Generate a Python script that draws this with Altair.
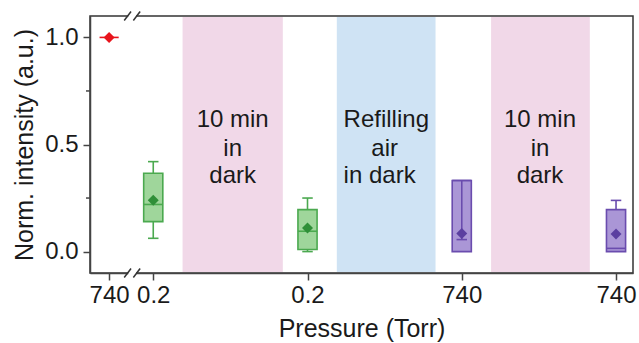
import altair as alt
import pandas as pd

FONT = "Liberation Sans"

# ---- data ----
tick_positions = [0.714, 1.0, 2.0, 3.0, 4.0]
tick_labels = ["740", "0.2", "0.2", "740", "740"]
box_groups = ["red", "green", "green", "purple", "purple"]
box_q1 = [1.0, 0.14, 0.01, 0.0, 0.0]
box_q3 = [1.0, 0.366, 0.196, 0.332, 0.196]
box_median = [1.0, 0.22, 0.095, 0.332, 0.015]
box_mean = [1.0, 0.24, 0.11, 0.084, 0.082]

whisker_pos = [1.0, 1.0, 2.0, 2.0, 3.0, 4.0]
whisker_group = ["green", "green", "green", "green", "purple", "purple"]
whisker_lo = [0.366, 0.062, 0.196, 0.0, 0.056, 0.196]
whisker_hi = [0.42, 0.14, 0.25, 0.01, 0.332, 0.239]
cap_value = [0.42, 0.062, 0.25, 0.0, 0.056, 0.239]

band_start = [1.19, 2.19, 3.19]
band_end = [1.84, 2.83, 3.83]
band_color = ["#f1d8e8", "#cfe3f4", "#f1d8e8"]

note_text = ["10 min", "in", "dark", "Refilling", "air", "in dark", "10 min", "in", "dark"]
note_x = [1.515, 1.515, 1.515, 2.234, 2.5, 2.234, 3.507, 3.507, 3.507]
note_y = [0.584, 0.444, 0.318, 0.584, 0.444, 0.318, 0.584, 0.444, 0.318]
note_align = ["center", "center", "center", "left", "center", "left", "center", "center", "center"]

stroke_col = {"red": "#e8141c", "green": "#4ba94f", "purple": "#6a4cae"}
fill_col = {"red": "#e8141c", "green": "#9fd69b", "purple": "#aa96d6"}
mean_col = {"red": "#e8141c", "green": "#2f8f38", "purple": "#5b3fa0"}

BOX_HW = 0.062
CAP_HW = 0.034
X_DOM = [0.59, 4.11]
Y_DOM = [-0.1, 1.1]

boxes = pd.DataFrame({
    "pos": tick_positions, "group": box_groups, "q1": box_q1, "q3": box_q3,
    "median": box_median, "mean": box_mean,
})
boxes["xl"] = boxes["pos"] - BOX_HW
boxes["xr"] = boxes["pos"] + BOX_HW
boxes["stroke"] = boxes["group"].map(stroke_col)
boxes["fill"] = boxes["group"].map(fill_col)
boxes["mcol"] = boxes["group"].map(mean_col)
real_boxes = boxes[boxes["group"] != "red"]

wh = pd.DataFrame({"pos": whisker_pos, "group": whisker_group, "lo": whisker_lo,
                   "hi": whisker_hi, "cap": cap_value})
wh["stroke"] = wh["group"].map(stroke_col)
wh["cl"] = wh["pos"] - CAP_HW
wh["cr"] = wh["pos"] + CAP_HW

bands = pd.DataFrame({"start": band_start, "end": band_end, "color": band_color})
notes = pd.DataFrame({"text": note_text, "x": note_x, "y": note_y, "align": note_align})

xs = alt.Scale(domain=X_DOM, nice=False, zero=False)
ys = alt.Scale(domain=Y_DOM, nice=False, zero=False)

label_expr = "datum.value < 0.8 ? '740' : (datum.value < 2.5 ? '0.2' : '740')"

band_layer = alt.Chart(bands).mark_rect().encode(
    x=alt.X("start:Q", scale=xs, title="Pressure (Torr)",
            axis=alt.Axis(values=tick_positions, labelExpr=label_expr, grid=False,
                          labelOverlap=False, labelFlush=False, labelPadding=3,
                          titlePadding=9)),
    x2="end:Q",
    y=alt.value(1), y2=alt.value(256),
    color=alt.Color("color:N", scale=None),
)

note_layers = []
for al in ["center", "left"]:
    note_layers.append(
        alt.Chart(notes[notes["align"] == al]).mark_text(
            font=FONT, fontSize=24, align=al, baseline="alphabetic", color="#1a1a1a"
        ).encode(x=alt.X("x:Q", scale=xs), y=alt.Y("y:Q", scale=ys), text="text:N")
    )

box_layer = alt.Chart(real_boxes).mark_rect(strokeWidth=1.6).encode(
    x=alt.X("xl:Q", scale=xs), x2="xr:Q",
    y=alt.Y("q1:Q", scale=ys,
            title="Norm. intensity (a.u.)",
            axis=alt.Axis(values=[0, 0.5, 1.0], format=".1f", grid=False,
                          labelPadding=5, titlePadding=7)),
    y2="q3:Q",
    fill=alt.Fill("fill:N", scale=None),
    stroke=alt.Stroke("stroke:N", scale=None),
)

median_layer = alt.Chart(boxes).mark_rule(strokeWidth=1.6).encode(
    x=alt.X("xl:Q", scale=xs), x2="xr:Q",
    y=alt.Y("median:Q", scale=ys),
    color=alt.Color("stroke:N", scale=None),
)

whisker_layer = alt.Chart(wh).mark_rule(strokeWidth=1.6).encode(
    x=alt.X("pos:Q", scale=xs),
    y=alt.Y("lo:Q", scale=ys), y2="hi:Q",
    color=alt.Color("stroke:N", scale=None),
)

cap_layer = alt.Chart(wh).mark_rule(strokeWidth=1.6).encode(
    x=alt.X("cl:Q", scale=xs), x2="cr:Q",
    y=alt.Y("cap:Q", scale=ys),
    color=alt.Color("stroke:N", scale=None),
)

mean_layer = alt.Chart(boxes).mark_point(shape="diamond", filled=True, size=120, opacity=1).encode(
    x=alt.X("pos:Q", scale=xs),
    y=alt.Y("mean:Q", scale=ys),
    color=alt.Color("mcol:N", scale=None),
)

# minor ticks on y axis
minor = pd.DataFrame({"v": [0.25, 0.75]})
minor_layer = alt.Chart(minor).mark_rule(color="#444", strokeWidth=1.5).encode(
    x=alt.value(-4), x2=alt.value(0), y=alt.Y("v:Q", scale=ys)
)

# axis break marks
BREAK_X = [0.834, 0.893]
gap = pd.DataFrame({"x1": [0.838, 0.838], "x2": [0.889, 0.889],
                    "y1": [1.088, -0.112], "y2": [1.112, -0.088]})
gap_layer = alt.Chart(gap).mark_rect(color="white").encode(
    x=alt.X("x1:Q", scale=xs), x2="x2:Q", y=alt.Y("y1:Q", scale=ys), y2="y2:Q"
)
slash_rows = []
for edge in [1.1, -0.1]:
    for bx in BREAK_X:
        slash_rows.append({"x1": bx - 0.022, "x2": bx + 0.022, "y1": edge - 0.021, "y2": edge + 0.021})
slashes = pd.DataFrame(slash_rows)
slash_layer = alt.Chart(slashes).mark_rule(color="#333", strokeWidth=1.5).encode(
    x=alt.X("x1:Q", scale=xs), x2="x2:Q", y=alt.Y("y1:Q", scale=ys), y2="y2:Q"
)

chart = alt.layer(
    band_layer, *note_layers, box_layer, median_layer, whisker_layer, cap_layer,
    mean_layer, minor_layer, gap_layer, slash_layer
).properties(
    width=543, height=257,
    autosize=alt.AutoSizeParams(type="none"),
    padding={"left": 90, "top": 16, "right": 6, "bottom": 70},
).configure_view(
    stroke="#333", strokeWidth=1.5
).configure_axis(
    labelFont=FONT, titleFont=FONT, labelFontSize=24, titleFontSize=25,
    titleFontWeight="normal", labelColor="#1a1a1a", titleColor="#1a1a1a",
    domainColor="#444", domainWidth=1.5, tickColor="#444", tickWidth=1.5, tickSize=7,
)

chart.save("out.html", embed_options={"renderer": "svg", "actions": False})
